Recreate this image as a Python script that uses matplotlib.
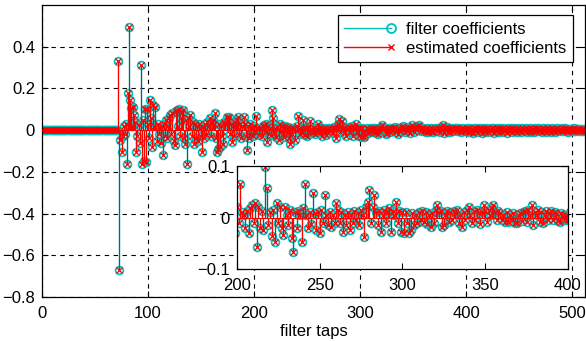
import matplotlib
matplotlib.use('Agg')
import matplotlib.pyplot as plt
from matplotlib.lines import Line2D
from matplotlib.legend_handler import HandlerBase
import numpy as np

plt.rcParams['font.family'] = ['Liberation Sans', 'DejaVu Sans']
plt.rcParams['font.size'] = 12

# filter taps 1..512 ; first 70 taps are zero (pure delay)
n_taps = 512
lead_zeros = [0.0] * 70
coef_tail = [
    0.0, 0.332, -0.67, -0.048, -0.104, -0.03, 0.02, -0.02, 0.03, -0.16,
    0.178, 0.493, 0.144, 0.105, 0.02, 0.11, 0.075, 0.04, -0.104, -0.03,
    0.024, -0.06, 0.312, -0.16, 0.05, -0.15, 0.1, -0.155, 0.1, 0.03,
    -0.04, 0.144, 0.06, -0.08, 0.12, 0.02, 0.112, -0.05, 0.03, -0.02,
    0.01, -0.06, 0.02, -0.12, 0.03, -0.03, 0.05, -0.04, 0.02, 0.06,
    0.072, -0.02, 0.08, -0.05, -0.072, 0.09, 0.096, 0.02, 0.1, -0.03,
    0.06, 0.08, 0.096, -0.04, -0.064, 0.05, -0.16, 0.056, 0.02, 0.072,
    -0.03, 0.04, -0.064, 0.03, -0.04, 0.02, -0.05, 0.03, 0.01, -0.03,
    -0.104, 0.016, -0.04, 0.03, -0.02, 0.04, 0.02, 0.056, -0.03, 0.04,
    0.05, 0.03, 0.08, -0.04, -0.104, -0.09, 0.03, -0.08, 0.02, -0.03,
    -0.064, 0.04, 0.03, 0.064, 0.05, 0.064, -0.02, 0.03, -0.056, 0.02,
    -0.03, 0.04, 0.02, 0.05, 0.064, -0.02, 0.03, -0.04, 0.02, 0.064,
    0.03, -0.03, -0.096, 0.02, -0.04, 0.03, -0.02, 0.01, -0.03, 0.02,
    -0.01, 0.066, 0.01, 0.005, -0.021, 0.012, -0.03, 0.018, 0.024, -0.01,
    0.028, -0.057, 0.02, -0.02, 0.012, -0.024, 0.099, 0.057, -0.015, 0.01,
    -0.035, 0.015, -0.047, 0.028, -0.01, 0.021, -0.02, -0.034, 0.021, 0.005,
    -0.015, 0.015, -0.04, -0.066, 0.01, -0.02, 0.012, 0.005, -0.047, 0.018,
    0.066, 0.005, -0.02, 0.01, -0.012, 0.048, 0.008, -0.025, 0.01, -0.03,
    0.015, -0.01, 0.044, 0.005, -0.015, 0.01, -0.018, 0.005, -0.01, 0.028,
    0.015, -0.01, 0.01, -0.028, 0.005, -0.015, 0.01, -0.024, 0.005, -0.01,
    0.012, -0.005, 0.008, -0.015, 0.015, 0.005, -0.037, 0.021, 0.03, 0.053,
    -0.01, 0.02, 0.044, 0.01, -0.015, 0.012, -0.028, 0.005, 0.015, -0.01,
    0.01, 0.018, -0.028, 0.012, 0.005, 0.031, -0.01, 0.012, -0.028, 0.01,
    -0.031, 0.01, -0.01, -0.031, -0.024, 0.008, -0.015, 0.005, -0.01, 0.01,
    -0.005, 0.012, -0.008, 0.01, -0.012, 0.005, -0.018, 0.008, -0.01, 0.015,
    0.024, 0.01, 0.012, -0.018, -0.015, 0.005, 0.012, -0.008, 0.01, -0.005,
    0.012, 0.008, 0.015, -0.01, 0.005, -0.018, 0.01, -0.005, 0.015, 0.021,
    0.005, -0.01, 0.012, -0.005, 0.015, 0.008, -0.012, 0.01, 0.024, 0.012,
    -0.008, 0.015, 0.005, 0.018, 0.024, 0.01, -0.005, 0.012, 0.008, -0.005,
    0.005, -0.008, 0.01, -0.008, 0.005, -0.005, 0.008, -0.01, -0.011, 0.005,
    0.008, -0.006, 0.01, 0.012, -0.008, 0.015, 0.005, 0.024, -0.015, 0.01,
    0.005, 0.015, -0.008, 0.01, -0.011, 0.005, 0.012, -0.005, 0.008, 0.012,
    -0.005, 0.01, 0.006, -0.006, -0.008, 0.008, 0.005, -0.005, 0.004, -0.004,
    0.01, -0.008, 0.012, -0.01, 0.006, -0.012, 0.008, -0.005, 0.01, -0.01,
    0.005, 0.012, -0.006, 0.008, -0.012, 0.004, 0.01, -0.008, 0.006, 0.012,
    -0.01, 0.005, -0.006, 0.01, 0.008, -0.012, 0.004, -0.006, 0.01, 0.006,
    -0.008, 0.012, 0.004, -0.01, 0.008, -0.004, 0.006, -0.012, 0.01, 0.005,
    -0.006, 0.008, -0.01, 0.004, 0.012, -0.005, 0.006, -0.008, 0.01, -0.004,
    0.006, -0.01, 0.008, 0.004, -0.006, 0.01, -0.008, 0.005, -0.004, 0.008,
    -0.01, 0.006, 0.004, -0.008, 0.01, -0.005, 0.006, 0.008, -0.006, 0.004,
    -0.008, 0.01, -0.004, 0.006, -0.01, 0.008, 0.005, -0.006, 0.004, -0.008,
    0.008, -0.005, 0.006, -0.008, 0.004, 0.01, -0.006, 0.005, -0.004, 0.008,
    -0.006, 0.004, 0.008, -0.005, 0.006, -0.008, 0.004, 0.006, -0.004, 0.005,
    -0.006, 0.008, -0.004, 0.005, 0.006, -0.005, 0.004, -0.006, 0.005, -0.004,
    0.004, -0.003,
]
taps = np.arange(1, n_taps + 1)
filter_coef = np.array(lead_zeros + coef_tail)
# the adaptive estimate has converged onto the true filter
estimated_coef = filter_coef.copy()

main_xticks = [0, 100, 200, 300, 400, 500]
main_yticks = [-0.8, -0.6, -0.4, -0.2, 0, 0.2, 0.4]
inset_xticks = [200, 250, 300, 350, 400]
inset_yticks = [-0.1, 0, 0.1]

CYAN = '#00bfbf'
RED = '#ff0000'


def draw_stems(ax):
    st = ax.stem(taps, filter_coef, linefmt='-', markerfmt='o', basefmt=' ')
    st.stemlines.set_color(CYAN)
    st.stemlines.set_linewidth(1.0)
    st.markerline.set_markerfacecolor('none')
    st.markerline.set_markeredgecolor(CYAN)
    st.markerline.set_markersize(5.6)
    st.markerline.set_markeredgewidth(1.25)
    st2 = ax.stem(taps, estimated_coef, linefmt='-', markerfmt='x', basefmt=' ')
    st2.stemlines.set_color(RED)
    st2.stemlines.set_linewidth(0.8)
    st2.markerline.set_color(RED)
    st2.markerline.set_markersize(4.0)
    st2.markerline.set_markeredgewidth(0.9)
    ax.axhline(0, color=RED, lw=0.8, zorder=3)


def style_axes(ax):
    ax.tick_params(direction='in', top=True, right=True, length=4, width=0.8)
    ax.tick_params(axis='x', pad=6.5)
    ax.tick_params(axis='y', pad=5)
    for s in ax.spines.values():
        s.set_linewidth(0.9)
        s.set_color('black')


class StemHandler(HandlerBase):
    def create_artists(self, legend, orig_handle, xdescent, ydescent,
                       width, height, fontsize, trans):
        y = (height - ydescent) / 2.0
        x0, x1 = -xdescent, width - xdescent
        line = Line2D([x0, x1], [y, y], color=orig_handle.get_color(), lw=1.0)
        mk = Line2D([x1], [y], ls='none', marker=orig_handle.get_marker(),
                    mfc=orig_handle.get_markerfacecolor(),
                    mec=orig_handle.get_markeredgecolor(),
                    ms=orig_handle.get_markersize(),
                    mew=orig_handle.get_markeredgewidth())
        line.set_transform(trans)
        mk.set_transform(trans)
        return [line, mk]


fig = plt.figure(figsize=(5.86, 3.41), dpi=100)
ax = fig.add_axes([0.0717, 0.129, 0.9266, 0.8563])
draw_stems(ax)
ax.set_xlim(0, 512)
ax.set_ylim(-0.8, 0.6)
ax.set_xticks(main_xticks)
ax.set_yticks(main_yticks)
ax.set_yticklabels(['\u22120.8', '\u22120.6', '\u22120.4', '\u22120.2', '0', '0.2', '0.4'])
ax.grid(True, color='black', linestyle=(0, (4, 4)), linewidth=0.8)
ax.set_xlabel('filter taps', labelpad=2)
style_axes(ax)

h1 = Line2D([], [], color=CYAN, marker='o', mfc='none', mec=CYAN, ms=6.5, mew=1.3)
h2 = Line2D([], [], color=RED, marker='x', mfc=RED, mec=RED, ms=5, mew=1.0)
leg = ax.legend([h1, h2], ['filter coefficients', 'estimated coefficients'],
                handler_map={Line2D: StemHandler()},
                loc='upper right', bbox_to_anchor=(0.978, 0.966), borderaxespad=0,
                handlelength=2.8, handletextpad=0.9, labelspacing=0.25,
                borderpad=0.4, fancybox=False, framealpha=1, edgecolor='black')
leg.get_frame().set_linewidth(0.9)

# zoomed inset of taps 200-400
axin = fig.add_axes([0.4044, 0.2111, 0.5648, 0.302])
draw_stems(axin)
axin.set_xlim(200, 400)
axin.set_ylim(-0.1, 0.1)
axin.set_xticks(inset_xticks)
axin.set_yticks(inset_yticks)
axin.set_yticklabels(['\u22120.1', '0', '0.1'])
style_axes(axin)

fig.savefig('out.png', dpi=100)
